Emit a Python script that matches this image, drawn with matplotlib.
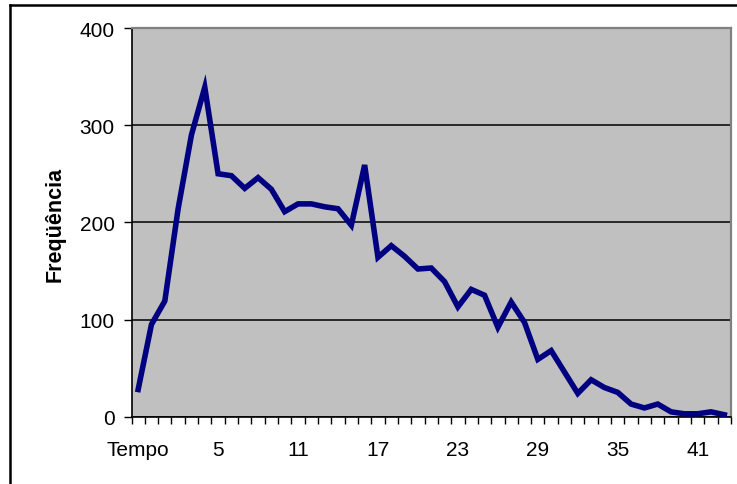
"""Recreate an Excel-style frequency line chart (Freqüência vs Tempo)."""

import matplotlib
matplotlib.use('Agg')
import matplotlib.pyplot as plt
from matplotlib.lines import Line2D
from matplotlib.ticker import FixedLocator, NullFormatter

# category labels along the x axis (first one is the axis caption "Tempo")
categories = ['Tempo'] + [str(t) for t in range(44)]
label_step = 6

# frequency per category
frequencia = [28, 95, 119, 214, 290, 339, 250, 248, 235, 246,
              234, 211, 219, 219, 216, 214, 197, 259, 164, 176,
              165, 152, 153, 139, 113, 131, 125, 92, 118, 97,
              59, 68, 46, 24, 38, 30, 25, 13, 9, 13,
              5, 3, 3, 5, 2]

y_ticks = [0, 100, 200, 300, 400]

plt.rcParams['font.family'] = ['Liberation Sans', 'DejaVu Sans']

W, H = 737, 485
fig = plt.figure(figsize=(W / 100, H / 100), dpi=100)
fig.patch.set_facecolor('white')

left, right, bottom, top = 131.5, 731, 417.7, 29
ax = fig.add_axes([left / W, 1 - bottom / H, (right - left) / W, (bottom - top) / H])
ax.set_facecolor('#c0c0c0')

x = list(range(1, len(categories) + 1))
ax.plot(x, frequencia, color='#000080', lw=4, solid_joinstyle='miter', zorder=3)

ax.set_xlim(0.5, len(categories) + 0.5)
ax.set_ylim(0, 400)

# y axis
ax.set_yticks(y_ticks)
ax.set_yticklabels([str(v) for v in y_ticks])
ax.tick_params(axis='y', direction='out', length=6, width=1, pad=6, labelsize=15)
ax.yaxis.grid(True, color='black', lw=1.1)
ax.set_axisbelow(True)

# x axis: labels every 6th category, small ticks between categories
pos = x[::label_step]
ax.set_xticks(pos)
ax.set_xticklabels(categories[::label_step])
ax.tick_params(axis='x', which='major', length=0, pad=17, labelsize=15)
ax.xaxis.set_minor_locator(FixedLocator([i + 0.5 for i in range(0, len(categories) + 1)]))
ax.xaxis.set_minor_formatter(NullFormatter())
ax.tick_params(axis='x', which='minor', direction='out', length=5, width=1)

for side in ['left', 'bottom']:
    ax.spines[side].set_color('black')
    ax.spines[side].set_linewidth(1.2)
for side in ['top', 'right']:
    ax.spines[side].set_color('#808080')
    ax.spines[side].set_linewidth(1.6)

fig.text(55 / W, 1 - 224 / H, 'Freqüência', rotation=90, ha='center', va='center',
         fontsize=15.5, fontweight='bold')

# outer chart frame (only left and top edges are visible in the crop)
fx, fy = 10 / W, 1 - 6 / H
fig.add_artist(Line2D([fx, fx], [0, fy], color='black', lw=1.8, transform=fig.transFigure))
fig.add_artist(Line2D([fx, 1], [fy, fy], color='black', lw=1.8, transform=fig.transFigure))

fig.savefig('out.png', dpi=100)
